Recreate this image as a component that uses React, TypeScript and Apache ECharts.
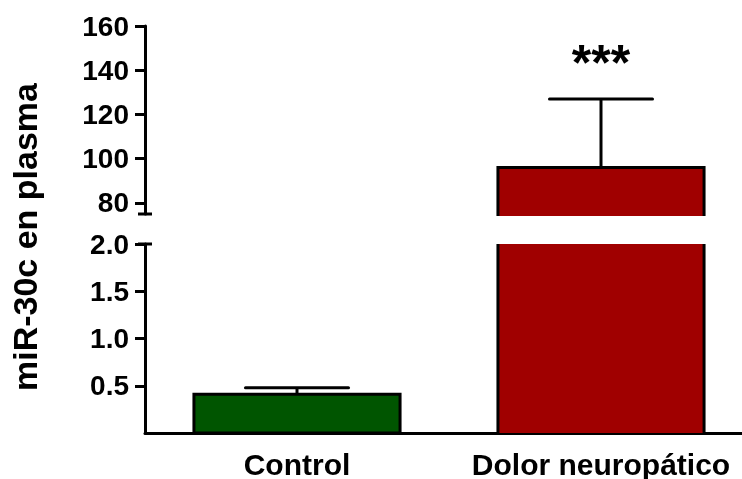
import React, { useEffect, useRef } from 'react';
import * as echarts from 'echarts';

const categories = ['Control', 'Dolor neuropático'];
const means = [0.41, 96];
const errors = [0.07, 31];
const barColors = ['#005500', '#a00000'];
const significance = ['', '***'];
const upperRange = [75, 160];
const lowerRange = [0, 2];
const upperTicks = [80, 100, 120, 140, 160];
const lowerTicks = [0.5, 1.0, 1.5, 2.0];
const yTitle = 'miR-30c en plasma';

const FONT = '"Liberation Sans", Arial, Helvetica, sans-serif';

function barRenderer(rangeMin: number, rangeMax: number, extendBottom: number) {
  return (params: any, api: any) => {
    const i = api.value(0);
    const v = api.value(1);
    if (v < rangeMin) return null;
    const top = Math.min(v, rangeMax);
    const pTop = api.coord([i, top]);
    const pBase = api.coord([i, rangeMin]);
    const bw = api.size([1, 0])[0] * 0.678;
    const x0 = pTop[0] - bw / 2;
    const x1 = pTop[0] + bw / 2;
    const yTop = pTop[1];
    const yBase = pBase[1] + extendBottom;
    const color = barColors[params.dataIndex];
    const children: any[] = [
      { type: 'rect', shape: { x: x0, y: yTop, width: bw, height: yBase - yTop }, style: { fill: color } },
    ];
    const stroke = { stroke: '#000', lineWidth: 3, fill: null, lineJoin: 'miter' };
    if (v <= rangeMax) {
      const pts = [[x0, yBase], [x0, yTop], [x1, yTop], [x1, yBase]];
      if (extendBottom === 0) pts.push([x0, yBase]);
      children.push({ type: 'polyline', shape: { points: pts }, style: stroke });
    } else {
      children.push({ type: 'line', shape: { x1: x0, y1: yTop, x2: x0, y2: yBase }, style: stroke });
      children.push({ type: 'line', shape: { x1: x1, y1: yTop, x2: x1, y2: yBase }, style: stroke });
    }
    return { type: 'group', children };
  };
}

function errorRenderer(rangeMin: number, rangeMax: number) {
  return (params: any, api: any) => {
    const i = api.value(0);
    const v = api.value(1);
    const e = api.value(2);
    const up = v + e;
    if (up < rangeMin || up > rangeMax) return null;
    const from = Math.max(v, rangeMin);
    const p0 = api.coord([i, from]);
    const p1 = api.coord([i, up]);
    const cw = api.size([1, 0])[0] * 0.678 * 0.5;
    const stroke = { stroke: '#000', lineWidth: 3 };
    const children: any[] = [
      { type: 'line', shape: { x1: p0[0], y1: p0[1], x2: p1[0], y2: p1[1] }, style: stroke },
      { type: 'line', shape: { x1: p1[0] - cw / 2, y1: p1[1], x2: p1[0] + cw / 2, y2: p1[1] }, style: { ...stroke, lineCap: 'round' } },
    ];
    const sig = significance[params.dataIndex];
    if (sig) {
      children.push({
        type: 'text',
        style: {
          text: sig,
          x: p1[0],
          y: p1[1] - 36,
          align: 'center',
          verticalAlign: 'middle',
          fontSize: 50,
          fontWeight: 'bold',
          fontFamily: FONT,
          fill: '#000',
        },
      });
    }
    return { type: 'group', children };
  };
}

export default function App() {
  const ref = useRef<HTMLDivElement>(null);
  useEffect(() => {
    if (!ref.current) return;
    const chart = echarts.init(ref.current, null, { renderer: 'svg' });
    const data = categories.map((_, i) => [i, means[i], errors[i]]);
    const axisLineStyle = { color: '#000', width: 3 };
    const yLabel = { fontSize: 28, fontWeight: 'bold', color: '#000', fontFamily: FONT, margin: 16 };
    chart.setOption({
      animation: false,
      grid: [
        { left: 145, top: 26, width: 608, height: 188, outerBoundsMode: 'none', containLabel: false },
        { left: 145, top: 244, width: 608, height: 189, outerBoundsMode: 'none', containLabel: false },
      ],
      xAxis: [
        { type: 'category', gridIndex: 0, data: categories, show: false },
        {
          type: 'category',
          gridIndex: 1,
          data: categories,
          axisLine: { lineStyle: axisLineStyle },
          axisTick: { show: false },
          axisLabel: { interval: 0, hideOverlap: false, fontSize: 30, fontWeight: 'bold', color: '#000', fontFamily: FONT, margin: 16 },
        },
      ],
      yAxis: [
        {
          type: 'value',
          gridIndex: 0,
          min: upperRange[0],
          max: upperRange[1],
          axisLine: { show: true, lineStyle: axisLineStyle, symbol: ['rect', 'none'], symbolSize: [14, 3] },
          axisTick: { show: true, length: 10, lineStyle: { width: 3, color: '#000' }, customValues: upperTicks },
          axisLabel: { ...yLabel, customValues: upperTicks },
          splitLine: { show: false },
        },
        {
          type: 'value',
          gridIndex: 1,
          min: lowerRange[0],
          max: lowerRange[1],
          axisLine: { show: true, lineStyle: axisLineStyle, symbol: ['none', 'rect'], symbolSize: [14, 3] },
          axisTick: { show: true, length: 10, lineStyle: { width: 3, color: '#000' }, customValues: lowerTicks },
          axisLabel: { ...yLabel, customValues: lowerTicks, formatter: (v: number) => v.toFixed(1) },
          splitLine: { show: false },
        },
      ],
      graphic: [
        {
          type: 'text',
          x: 25,
          y: 237,
          rotation: Math.PI / 2,
          style: {
            text: yTitle,
            align: 'center',
            verticalAlign: 'middle',
            fontSize: 34,
            fontWeight: 'bold',
            fontFamily: FONT,
            fill: '#000',
          },
        },
      ],
      series: [
        { type: 'custom', xAxisIndex: 0, yAxisIndex: 0, data, renderItem: barRenderer(upperRange[0], upperRange[1], 2), z: 2 },
        { type: 'custom', xAxisIndex: 1, yAxisIndex: 1, data, renderItem: barRenderer(lowerRange[0], lowerRange[1], 0), z: 2 },
        { type: 'custom', xAxisIndex: 0, yAxisIndex: 0, data, renderItem: errorRenderer(upperRange[0], upperRange[1]), z: 3 },
        { type: 'custom', xAxisIndex: 1, yAxisIndex: 1, data, renderItem: errorRenderer(lowerRange[0], lowerRange[1]), z: 3 },
      ],
    });
    return () => chart.dispose();
  }, []);
  return <div ref={ref} style={{ position: 'fixed', left: 0, top: 0, width: 742, height: 479 }} />;
}
